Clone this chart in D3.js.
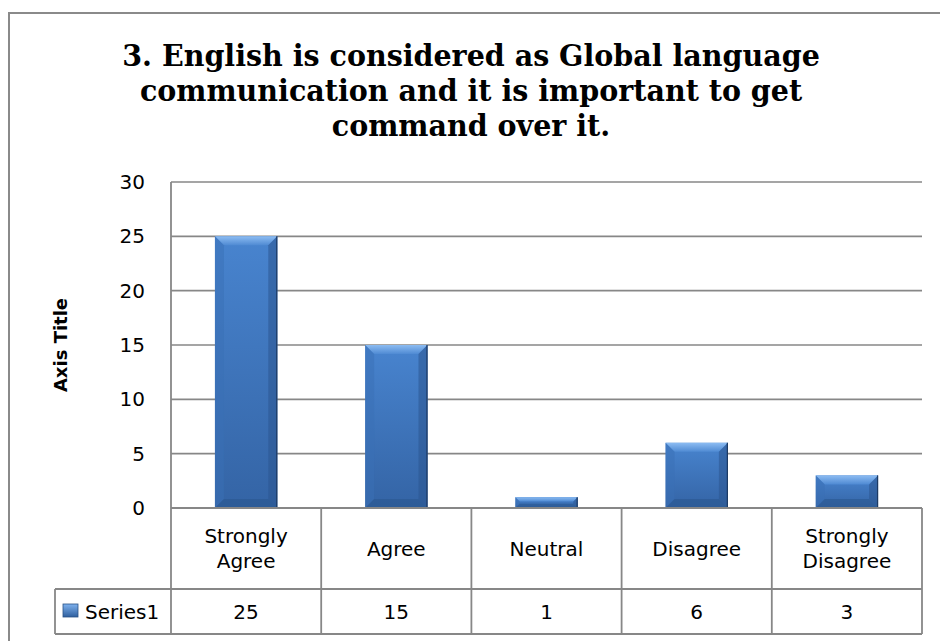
<!DOCTYPE html>
<html>
<head>
<meta charset="utf-8">
<script src="https://cdn.jsdelivr.net/npm/d3@7"></script>
<style>
  html, body { margin: 0; padding: 0; background: #fff; }
  svg { display: block; }
</style>
</head>
<body>
<svg id="chart" width="940" height="641"></svg>
<script>
// Survey responses for statement 3
const titleLines = [
  "3. English is considered as Global language",
  "communication and it is important to get",
  "command over it."
];
const categories = ["Strongly Agree", "Agree", "Neutral", "Disagree", "Strongly Disagree"];
const categoryLines = [["Strongly", "Agree"], ["Agree"], ["Neutral"], ["Disagree"], ["Strongly", "Disagree"]];
const series1 = [25, 15, 1, 6, 3];
const seriesName = "Series1";
const yTicks = [0, 5, 10, 15, 20, 25, 30];
const yAxisTitle = "Axis Title";

const svg = d3.select("#chart");
const W = 940, H = 641;
const plot = { left: 171, right: 922, top: 182, bottom: 508 };
const table = { headerBottom: 589, bottom: 634, legendLeft: 55 };
const gridColor = "#878787";
const labelFont = "'DejaVu Sans', sans-serif";

svg.append("rect").attr("width", W).attr("height", H).attr("fill", "#fff");

// outer chart frame (runs off the right and bottom edges)
svg.append("rect")
  .attr("x", 9).attr("y", 13).attr("width", 960).attr("height", 660)
  .attr("fill", "none").attr("stroke", "#8a8a8a").attr("stroke-width", 2);

// gradients for the bevelled bar look
const defs = svg.append("defs");
const g1 = defs.append("linearGradient").attr("id", "barBody").attr("x1", 0).attr("y1", 0).attr("x2", 0).attr("y2", 1);
g1.append("stop").attr("offset", "0%").attr("stop-color", "#4884cf");
g1.append("stop").attr("offset", "100%").attr("stop-color", "#3464a5");
const g2 = defs.append("linearGradient").attr("id", "barTop").attr("x1", 0).attr("y1", 0).attr("x2", 0).attr("y2", 1);
g2.append("stop").attr("offset", "0%").attr("stop-color", "#8cbcf2");
g2.append("stop").attr("offset", "100%").attr("stop-color", "#4f8ad3");
const g3 = defs.append("linearGradient").attr("id", "legendBox").attr("x1", 0).attr("y1", 0).attr("x2", 0).attr("y2", 1);
g3.append("stop").attr("offset", "0%").attr("stop-color", "#7fb2ee");
g3.append("stop").attr("offset", "100%").attr("stop-color", "#2f5f9e");

// scales
const x = d3.scaleBand().domain(categories).range([plot.left, plot.right])
  .paddingInner(0.585).paddingOuter(0.2925);
const y = d3.scaleLinear().domain([0, 30]).range([plot.bottom, plot.top]);

// horizontal gridlines
svg.append("g").selectAll("line").data(yTicks.filter(d => d > 0)).join("line")
  .attr("x1", plot.left).attr("x2", plot.right)
  .attr("y1", d => y(d)).attr("y2", d => y(d))
  .attr("stroke", gridColor).attr("stroke-width", 1.6);

// y axis via d3.axisLeft, restyled
const yAxis = svg.append("g").attr("transform", `translate(${plot.left},0)`)
  .call(d3.axisLeft(y).tickValues(yTicks).tickSize(0).tickPadding(26));
yAxis.select(".domain").remove();
yAxis.selectAll("text")
  .attr("font-family", labelFont).attr("font-size", 20).attr("fill", "#000");

// axis title
svg.append("text")
  .attr("transform", `translate(67,${(plot.top + plot.bottom) / 2}) rotate(-90)`)
  .attr("text-anchor", "middle")
  .attr("font-family", labelFont).attr("font-size", 18).attr("font-weight", "bold")
  .text(yAxisTitle);

// bars with bevel
const bars = svg.append("g").selectAll("g").data(series1.map((v, i) => ({ v, c: categories[i] }))).join("g");
bars.each(function(d) {
  const g = d3.select(this);
  const x0 = x(d.c), w = x.bandwidth();
  const y0 = y(d.v), h = y(0) - y(d.v);
  const b = Math.min(9, h * 0.4);
  const x1 = x0 + w, y1 = y0 + h;
  g.append("rect").attr("x", x0).attr("y", y0).attr("width", w).attr("height", h).attr("fill", "url(#barBody)");
  g.append("polygon").attr("points", [[x0, y0], [x1, y0], [x1 - b, y0 + b], [x0 + b, y0 + b]].join(" "))
    .attr("fill", "url(#barTop)");
  g.append("polygon").attr("points", [[x0, y0], [x0 + b, y0 + b], [x0 + b, y1 - b], [x0, y1]].join(" "))
    .attr("fill", "#3a6fb6").attr("opacity", 0.5);
  g.append("polygon").attr("points", [[x1, y0], [x1 - b, y0 + b], [x1 - b, y1 - b], [x1, y1]].join(" "))
    .attr("fill", "#2b568f").attr("opacity", 0.55);
  g.append("polygon").attr("points", [[x0, y1], [x0 + b, y1 - b], [x1 - b, y1 - b], [x1, y1]].join(" "))
    .attr("fill", "#2a5790").attr("opacity", 0.6);
  g.append("line").attr("x1", x1 - 0.5).attr("x2", x1 - 0.5).attr("y1", y0).attr("y2", y1)
    .attr("stroke", "#1d3a63").attr("stroke-width", 1.2);
});

// data table below the plot
const step = x.step();
const bounds = categories.map((c, i) => plot.left + i * step).concat([plot.right]);
const tg = svg.append("g").attr("stroke", gridColor).attr("stroke-width", 1.8);
// left plot edge extending into the table
tg.append("line").attr("x1", plot.left).attr("x2", plot.left).attr("y1", plot.top).attr("y2", table.bottom);
// column separators
tg.selectAll("line.col").data(bounds.slice(1)).join("line").attr("class", "col")
  .attr("x1", d => d).attr("x2", d => d).attr("y1", plot.bottom).attr("y2", table.bottom);
// horizontal rules
tg.append("line").attr("x1", plot.left).attr("x2", plot.right).attr("y1", plot.bottom).attr("y2", plot.bottom);
tg.append("line").attr("x1", table.legendLeft).attr("x2", plot.right).attr("y1", table.headerBottom).attr("y2", table.headerBottom);
tg.append("line").attr("x1", table.legendLeft).attr("x2", plot.right).attr("y1", table.bottom).attr("y2", table.bottom);
tg.append("line").attr("x1", table.legendLeft).attr("x2", table.legendLeft).attr("y1", table.headerBottom).attr("y2", table.bottom);

// category labels
const headerMid = (plot.bottom + table.headerBottom) / 2;
const lineH = 24.5;
svg.append("g").selectAll("text").data(categories).join("text")
  .attr("x", d => x(d) + x.bandwidth() / 2)
  .attr("text-anchor", "middle")
  .attr("font-family", labelFont).attr("font-size", 20).attr("fill", "#000")
  .each(function(d, i) {
    const lines = categoryLines[i];
    const t = d3.select(this);
    const first = headerMid - (lines.length - 1) * lineH / 2 + 7;
    lines.forEach((ln, k) => {
      t.append("tspan").attr("x", x(d) + x.bandwidth() / 2).attr("y", first + k * lineH).text(ln);
    });
  });

// value row
const valueMid = (table.headerBottom + table.bottom) / 2;
svg.append("g").selectAll("text").data(series1).join("text")
  .attr("x", (d, i) => x(categories[i]) + x.bandwidth() / 2)
  .attr("y", valueMid + 7)
  .attr("text-anchor", "middle")
  .attr("font-family", labelFont).attr("font-size", 20).attr("fill", "#000")
  .text(d => d);

// legend key in the table
svg.append("rect").attr("x", 63).attr("y", 604).attr("width", 15).attr("height", 13)
  .attr("fill", "url(#legendBox)").attr("stroke", "#2a5286").attr("stroke-width", 0.8);
svg.append("text").attr("x", 85).attr("y", valueMid + 7)
  .attr("font-family", labelFont).attr("font-size", 20).attr("fill", "#000")
  .text(seriesName);

// title: serif bold, narrowed horizontally so the first line spans the intended width
const titleX = 471, titleFs = 29, titleWidth = 698;
const title = svg.append("g").attr("font-family", "'DejaVu Serif', serif").attr("font-weight", "bold")
  .attr("text-anchor", "middle").attr("fill", "#000");
const tl = title.selectAll("text").data(titleLines).join("text")
  .attr("x", 0).attr("y", 0)
  .attr("font-size", titleFs).text(d => d);
const sx = titleWidth / tl.node().getComputedTextLength();
tl.attr("transform", (d, i) => `translate(${titleX},${66 + i * 35}) scale(${sx},1)`);
</script>
</body>
</html>
